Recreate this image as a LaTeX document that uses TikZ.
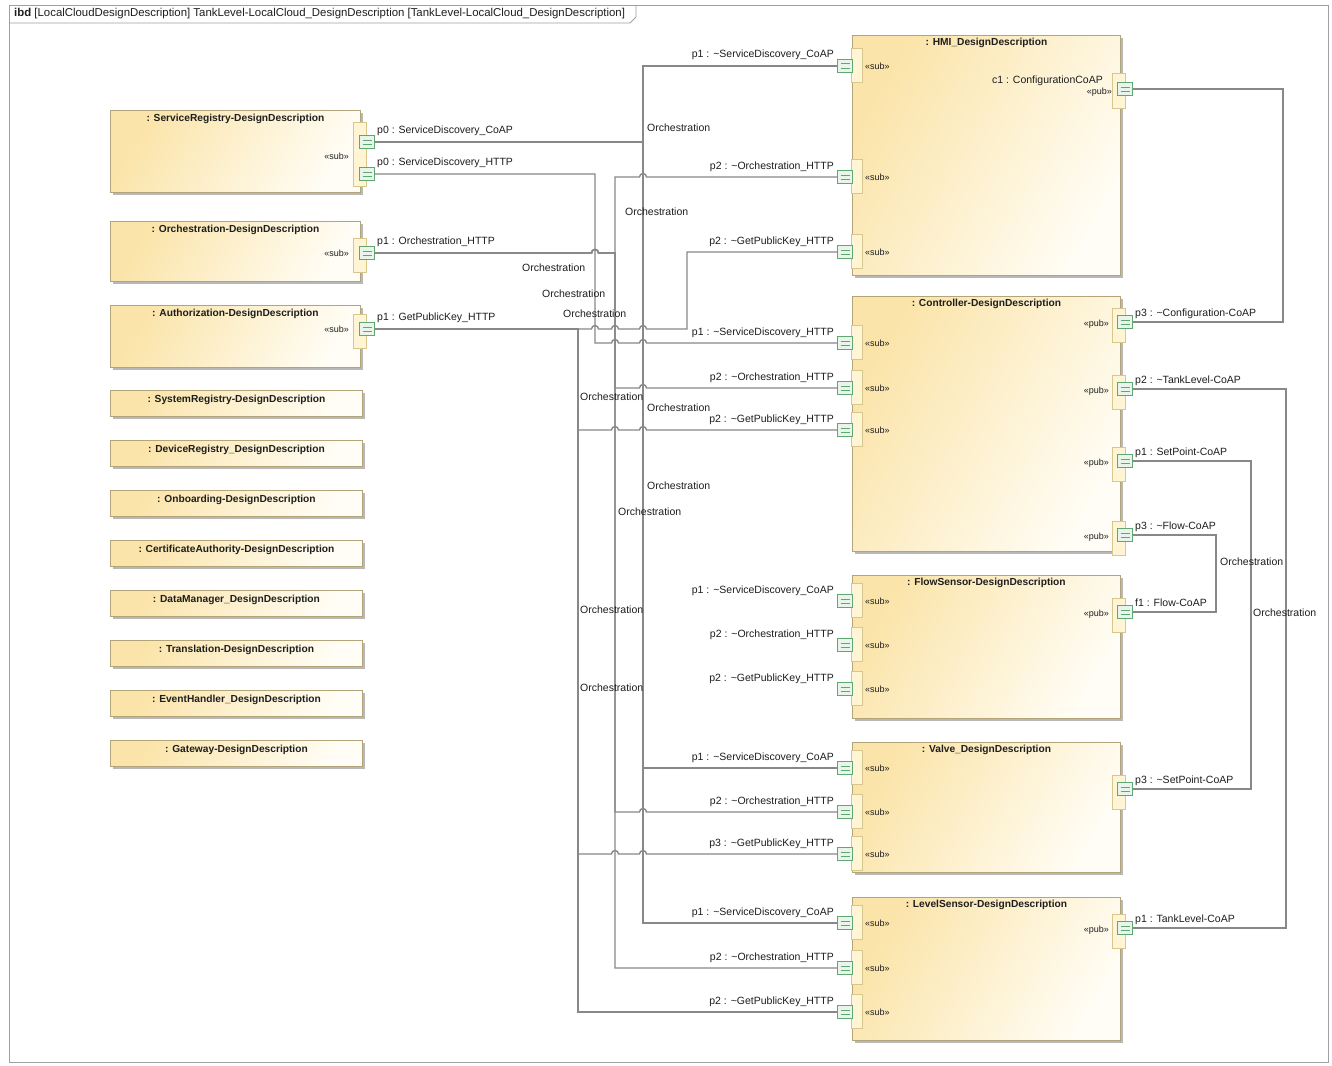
\documentclass[tikz,border=0pt]{standalone}
\usepackage{fontspec}
\setmainfont{Liberation Sans}
\usetikzlibrary{shadows}

\definecolor{blkL}{HTML}{FBE4A9}
\definecolor{blkR}{HTML}{FFFDF5}
\definecolor{blkEdge}{HTML}{B4A479}
\definecolor{portFill}{HTML}{FFF4D3}
\definecolor{portEdge}{HTML}{D8C78C}
\definecolor{gFill}{HTML}{E9F4EB}
\definecolor{gEdge}{HTML}{5FA871}
\definecolor{wireC}{HTML}{888888}
\definecolor{frameC}{HTML}{A0A0A0}
\definecolor{txtC}{HTML}{1E1E1E}

\newcommand\conj{\textasciitilde}

\tikzset{
  blk/.style={draw=blkEdge, line width=0.9pt, left color=blkL, right color=blkR,
    shading angle=60, inner sep=0pt,
    drop shadow={shadow xshift=2.5pt, shadow yshift=-2.5pt, fill=black, opacity=0.28}},
  ttl/.style={font=\bfseries\fontsize{10.2}{12}\selectfont, text=txtC, inner sep=0pt},
  lbl/.style={font=\fontsize{10.5}{12}\selectfont, text=txtC, inner sep=0pt},
  stereo/.style={font=\fontsize{9}{11}\selectfont, text=txtC, inner sep=0pt},
  cream/.style={fill=portFill, draw=portEdge, line width=0.7pt},
  gport/.style={draw=gEdge, fill=gFill, line width=0.8pt, minimum width=15pt,
    minimum height=13pt, inner sep=0pt,
    path picture={\draw[gEdge, line width=0.6pt]
      ([xshift=3pt,yshift=-4.3pt]path picture bounding box.north west) --
      ([xshift=-3pt,yshift=-4.3pt]path picture bounding box.north east)
      ([xshift=3pt,yshift=4.3pt]path picture bounding box.south west) --
      ([xshift=-3pt,yshift=4.3pt]path picture bounding box.south east);}},
  wire/.style={draw=wireC, line width=1.4pt},
  conn/.style={font=\fontsize{10.5}{12}\selectfont, text=txtC, inner sep=0pt, anchor=west},
}

% port on the left edge of a right-hand part: name, y, label
\newcommand\lpt[3]{%
  \filldraw[cream] (851,#2-18) rectangle (862,#2+16);
  \node[gport] (#1) at (845,#2) {};
  \node[stereo, anchor=base west] (#1s) at (865,#2+3.5) {«sub»};
  \node[lbl, anchor=base east] (#1l) at (834,#2-8) {#3};}
% port on the right edge of a right-hand part: name, y, label
\newcommand\rpt[3]{%
  \filldraw[cream] (1112,#2-14) rectangle (1125,#2+20);
  \node[gport] (#1) at (1125,#2) {};
  \node[stereo, anchor=base east] (#1s) at (1109,#2+4) {«pub»};
  \node[lbl, anchor=base west] (#1l) at (1135,#2-6) {#3};}
% hop of a horizontal wire over a vertical one at x
\newcommand\hop[2]{-- (#1-3.5,#2) arc[start angle=180, end angle=0, radius=3.5pt]}

\begin{document}
\begin{tikzpicture}[x=1pt, y=-1pt]
\useasboundingbox (0,0) rectangle (1332,1065);
\fill[white] (0,0) rectangle (1332,1065);

% diagram frame and heading tab
\draw[frameC, line width=0.9pt] (9,5) rectangle (1328,1062);
\draw[frameC, line width=0.9pt] (9,23) -- (630,23) -- (636,17) -- (636,5);
\node[font=\fontsize{11.4}{13}\selectfont, text=txtC, anchor=west, inner sep=0pt] (hdr) at (14,14)
  {\textbf{ibd} [LocalCloudDesignDescription] TankLevel-LocalCloud\_DesignDescription [TankLevel-LocalCloud\_DesignDescription]};

% ---------------- core system parts (left column) ----------------
\node[blk, minimum width=250pt, minimum height=82pt, anchor=north west] (sr) at (110,110) {};
\node[ttl, anchor=north] (srT) at ([yshift=-4pt]sr.north) {: ServiceRegistry-DesignDescription};
\node[blk, minimum width=250pt, minimum height=60pt, anchor=north west] (orc) at (110,221) {};
\node[ttl, anchor=north] (orcT) at ([yshift=-4pt]orc.north) {: Orchestration-DesignDescription};
\node[blk, minimum width=250pt, minimum height=62pt, anchor=north west] (aut) at (110,305) {};
\node[ttl, anchor=north] (autT) at ([yshift=-4pt]aut.north) {: Authorization-DesignDescription};

\foreach \nm/\yy/\tx in {
  sys/390/{: SystemRegistry-DesignDescription},
  dev/440/{: DeviceRegistry\_DesignDescription},
  onb/490/{: Onboarding-DesignDescription},
  cer/540/{: CertificateAuthority-DesignDescription},
  dat/590/{: DataManager\_DesignDescription},
  tra/640/{: Translation-DesignDescription},
  evh/690/{: EventHandler\_DesignDescription},
  gat/740/{: Gateway-DesignDescription}} {
  \node[blk, minimum width=252pt, minimum height=26pt, anchor=north west] (\nm) at (110,\yy) {};
  \node[ttl, anchor=north] (\nm T) at ([yshift=-5pt]\nm.north) {\tx};
}

% ports of the core systems
\filldraw[cream] (353,122) rectangle (366,186);
\node[gport] (srA) at (367,142) {};
\node[gport] (srB) at (367,174) {};
\node[stereo, anchor=base east] (srS) at (349,159) {«sub»};
\node[lbl, anchor=base west] (srAl) at (377,133) {p0 : ServiceDiscovery\_CoAP};
\node[lbl, anchor=base west] (srBl) at (377,165) {p0 : ServiceDiscovery\_HTTP};

\filldraw[cream] (353,238) rectangle (366,272);
\node[gport] (orcP) at (367,253) {};
\node[stereo, anchor=base east] (orcS) at (349,256) {«sub»};
\node[lbl, anchor=base west] (orcPl) at (377,244) {p1 : Orchestration\_HTTP};

\filldraw[cream] (353,314) rectangle (366,348);
\node[gport] (autP) at (367,329) {};
\node[stereo, anchor=base east] (autS) at (349,332) {«sub»};
\node[lbl, anchor=base west] (autPl) at (377,320) {p1 : GetPublicKey\_HTTP};

% ---------------- application parts (right column) ----------------
\node[blk, minimum width=268pt, minimum height=240pt, anchor=north west] (hmi) at (852,35) {};
\node[ttl, anchor=north] (hmiT) at ([yshift=-3pt]hmi.north) {: HMI\_DesignDescription};
\node[blk, minimum width=268pt, minimum height=255pt, anchor=north west] (ctl) at (852,296) {};
\node[ttl, anchor=north] (ctlT) at ([yshift=-3pt]ctl.north) {: Controller-DesignDescription};
\node[blk, minimum width=268pt, minimum height=143pt, anchor=north west] (fs) at (852,575) {};
\node[ttl, anchor=north] (fsT) at ([yshift=-3pt]fs.north) {: FlowSensor-DesignDescription};
\node[blk, minimum width=268pt, minimum height=130pt, anchor=north west] (vlv) at (852,742) {};
\node[ttl, anchor=north] (vlvT) at ([yshift=-3pt]vlv.north) {: Valve\_DesignDescription};
\node[blk, minimum width=268pt, minimum height=143pt, anchor=north west] (ls) at (852,897) {};
\node[ttl, anchor=north] (lsT) at ([yshift=-3pt]ls.north) {: LevelSensor-DesignDescription};

\lpt{hmiA}{66}{p1 : \conj ServiceDiscovery\_CoAP}
\lpt{hmiB}{177}{p2 : \conj Orchestration\_HTTP}
\lpt{hmiC}{252}{p2 : \conj GetPublicKey\_HTTP}
\filldraw[cream] (1112,73) rectangle (1125,108);
\node[gport] (hmiR) at (1125,89) {};
\node[lbl, anchor=base east] (hmiRl) at (1103,83) {c1 : ConfigurationCoAP};
\node[stereo, anchor=base east] (hmiRs) at (1112,94) {«pub»};

\lpt{ctlA}{343}{p1 : \conj ServiceDiscovery\_HTTP}
\lpt{ctlB}{388}{p2 : \conj Orchestration\_HTTP}
\lpt{ctlC}{430}{p2 : \conj GetPublicKey\_HTTP}
\rpt{ctlR}{322}{p3 : \conj Configuration-CoAP}
\rpt{ctlT}{389}{p2 : \conj TankLevel-CoAP}
\rpt{ctlS}{461}{p1 : SetPoint-CoAP}
\rpt{ctlF}{535}{p3 : \conj Flow-CoAP}

\lpt{fsA}{601}{p1 : \conj ServiceDiscovery\_CoAP}
\lpt{fsB}{645}{p2 : \conj Orchestration\_HTTP}
\lpt{fsC}{689}{p2 : \conj GetPublicKey\_HTTP}
\rpt{fsF}{612}{f1 : Flow-CoAP}

\lpt{vlvA}{768}{p1 : \conj ServiceDiscovery\_CoAP}
\lpt{vlvB}{812}{p2 : \conj Orchestration\_HTTP}
\lpt{vlvC}{854}{p3 : \conj GetPublicKey\_HTTP}
\filldraw[cream] (1112,775) rectangle (1125,809);
\node[gport] (vlvS) at (1125,789) {};
\node[lbl, anchor=base west] (vlvSl) at (1135,783) {p3 : \conj SetPoint-CoAP};

\lpt{lsA}{923}{p1 : \conj ServiceDiscovery\_CoAP}
\lpt{lsB}{968}{p2 : \conj Orchestration\_HTTP}
\lpt{lsC}{1012}{p2 : \conj GetPublicKey\_HTTP}
\rpt{lsT}{928}{p1 : TankLevel-CoAP}

% ---------------- connectors ----------------
% service discovery (CoAP)
\draw[wire] (srA.east) -- (643,142) -- (643,66) -- (hmiA.west);
\draw[wire] (srA.east) -- (643,142) -- (643,768) -- (vlvA.west);
\draw[wire] (srA.east) -- (643,142) -- (643,923) -- (lsA.west);
% service discovery (HTTP)
\draw[wire] (srB.east) -- (595,174) -- (595,343) \hop{615}{343} \hop{643}{343} -- (ctlA.west);
% orchestration
\draw[wire] (orcP.east) \hop{595}{253} -- (615,253) -- (615,177) \hop{643}{177} -- (hmiB.west);
\draw[wire] (orcP.east) \hop{595}{253} -- (615,253) -- (615,388) \hop{643}{388} -- (ctlB.west);
\draw[wire] (orcP.east) \hop{595}{253} -- (615,253) -- (615,812) \hop{643}{812} -- (vlvB.west);
\draw[wire] (orcP.east) \hop{595}{253} -- (615,253) -- (615,968) -- (lsB.west);
% public key
\draw[wire] (autP.east) \hop{595}{329} \hop{615}{329} \hop{643}{329} -- (687,329) -- (687,252) -- (hmiC.west);
\draw[wire] (autP.east) -- (578,329) -- (578,430) \hop{615}{430} \hop{643}{430} -- (ctlC.west);
\draw[wire] (autP.east) -- (578,329) -- (578,854) \hop{615}{854} \hop{643}{854} -- (vlvC.west);
\draw[wire] (autP.east) -- (578,329) -- (578,1012) -- (lsC.west);
% application data
\draw[wire] (hmiR.east) -- (1283,89) -- (1283,322) -- (ctlR.east);
\draw[wire] (ctlT.east) -- (1286,389) -- (1286,928) -- (lsT.east);
\draw[wire] (ctlS.east) -- (1251,461) -- (1251,789) -- (vlvS.east);
\draw[wire] (ctlF.east) -- (1216,535) -- (1216,612) -- (fsF.east);

% connector names
\foreach \nm/\xx/\yy in {o1/647/128, o2/625/212, o3/522/268, o4/542/294, o5/563/314,
  o6/580/397, o7/647/408, o8/647/486, o9/618/512, o10/580/610, o11/580/688,
  o12/1220/562, o13/1253/613} {
  \node[conn] (\nm) at (\xx,\yy) {Orchestration};
}
\end{tikzpicture}
\end{document}
